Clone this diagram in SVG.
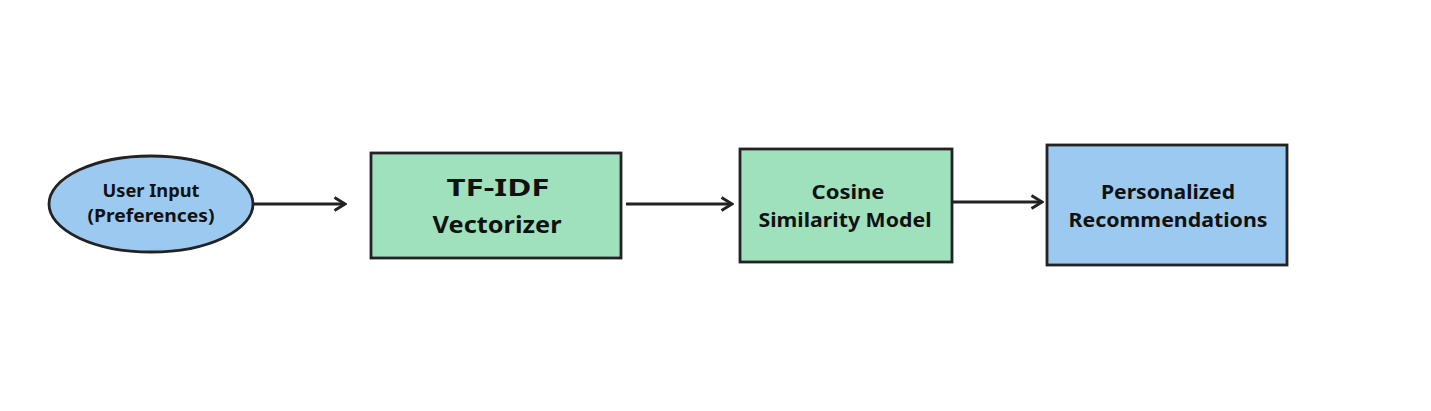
<svg xmlns="http://www.w3.org/2000/svg" width="1431" height="411" viewBox="0 0 1431 411">
<defs>
<style>
.node{stroke:#222;stroke-width:2.8}
.green{fill:#9fe1bd}
.blue{fill:#9bc9ef}
.t{font-family:"Noto Sans","Liberation Sans",Arial,sans-serif;font-weight:bold;fill:#111;text-anchor:middle}
.edge{stroke:#222;stroke-width:2.8;fill:none;marker-end:url(#ah)}
</style>
<marker id="ah" viewBox="0 0 14 16" refX="12" refY="8" markerWidth="14" markerHeight="16" markerUnits="userSpaceOnUse" orient="auto">
<path d="M1.5,1.5 L12,8 L1.5,14.5" fill="none" stroke="#222" stroke-width="2.8" stroke-linejoin="miter"/>
</marker>
</defs>
<rect width="1431" height="411" fill="#fff"/>
<g id="user-input">
<ellipse class="node blue" cx="151" cy="204" rx="102" ry="48"/>
<text class="t" x="151" y="197" font-size="17" textLength="97" lengthAdjust="spacingAndGlyphs">User Input</text>
<text class="t" x="151" y="222" font-size="17" textLength="127" lengthAdjust="spacingAndGlyphs">(Preferences)</text>
</g>
<g id="tfidf">
<rect class="node green" x="371" y="153" width="250" height="105"/>
<text class="t" x="498" y="196" font-size="24" textLength="103" lengthAdjust="spacingAndGlyphs">TF-IDF</text>
<text class="t" x="497" y="233" font-size="24" textLength="129" lengthAdjust="spacingAndGlyphs">Vectorizer</text>
</g>
<g id="cosine">
<rect class="node green" x="740" y="149" width="212" height="113"/>
<text class="t" x="848" y="199" font-size="19" textLength="73" lengthAdjust="spacingAndGlyphs">Cosine</text>
<text class="t" x="845" y="227" font-size="19" textLength="173" lengthAdjust="spacingAndGlyphs">Similarity Model</text>
</g>
<g id="recommendations">
<rect class="node blue" x="1047" y="145" width="240" height="120"/>
<text class="t" x="1168" y="199" font-size="20" textLength="134" lengthAdjust="spacingAndGlyphs">Personalized</text>
<text class="t" x="1168" y="227" font-size="20" textLength="199" lengthAdjust="spacingAndGlyphs">Recommendations</text>
</g>
<g id="connectors">
<line class="edge" x1="254" y1="204" x2="345" y2="204"/>
<line class="edge" x1="626" y1="204" x2="732" y2="204"/>
<line class="edge" x1="953" y1="202" x2="1042" y2="202"/>
</g>
</svg>
